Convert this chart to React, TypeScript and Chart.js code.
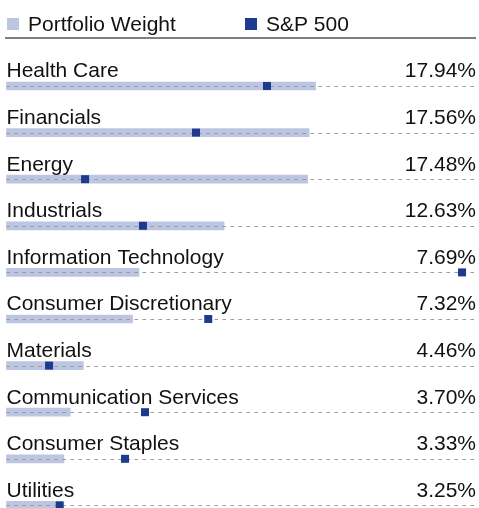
import React, { useEffect, useRef } from "react";
import { Chart, registerables } from "chart.js";

Chart.register(...registerables);

const categories: string[] = [
  "Health Care",
  "Financials",
  "Energy",
  "Industrials",
  "Information Technology",
  "Consumer Discretionary",
  "Materials",
  "Communication Services",
  "Consumer Staples",
  "Utilities",
];

const portfolioWeight: number[] = [17.94, 17.56, 17.48, 12.63, 7.69, 7.32, 4.46, 3.7, 3.33, 3.25];

const sp500Weight: number[] = [15.12, 11.0, 4.56, 7.92, 26.44, 11.71, 2.47, 8.04, 6.88, 3.09];

const seriesNames: string[] = ["Portfolio Weight", "S&P 500"];

const LIGHT = "#bcc5e2";
const DARK = "#1d3a8e";
const TEXT = "#111111";
const FONT = '21px "Liberation Sans", Arial, Helvetica, sans-serif';

const rowsPlugin = {
  id: "rowsPlugin",
  afterDatasetDraw(chart: any, args: any) {
    if (args.index !== 0) return;
    const ctx = chart.ctx;
    const area = chart.chartArea;
    const meta = chart.getDatasetMeta(0);
    ctx.save();
    ctx.strokeStyle = "#9a9a9a";
    ctx.lineWidth = 1;
    ctx.setLineDash([3.5, 4.5]);
    meta.data.forEach((bar: any) => {
      const y = Math.round(bar.y) + 0.5;
      ctx.beginPath();
      ctx.moveTo(area.left, y);
      ctx.lineTo(area.right, y);
      ctx.stroke();
    });
    ctx.restore();
  },
  afterDraw(chart: any) {
    const ctx = chart.ctx;
    const area = chart.chartArea;
    const meta = chart.getDatasetMeta(0);
    const labels = chart.data.labels as string[];
    const values = chart.data.datasets[0].data as number[];
    ctx.save();
    ctx.font = FONT;
    ctx.fillStyle = TEXT;
    ctx.textBaseline = "alphabetic";
    meta.data.forEach((bar: any, i: number) => {
      const baseY = bar.y - 8.7;
      ctx.textAlign = "left";
      ctx.fillText(labels[i], area.left, baseY);
      ctx.textAlign = "right";
      ctx.fillText(values[i].toFixed(2) + "%", area.right, baseY);
    });

    // legend
    const ds = chart.data.datasets;
    const legendX = [7, 245];
    ds.forEach((d: any, i: number) => {
      ctx.fillStyle = i === 0 ? LIGHT : DARK;
      ctx.fillRect(legendX[i], 18, 12, 12);
      ctx.fillStyle = TEXT;
      ctx.textAlign = "left";
      ctx.fillText(d.label, legendX[i] + 21, 30.5);
    });

    // separator
    ctx.fillStyle = "#808080";
    ctx.fillRect(5, 37, area.right - 5, 2);
    ctx.restore();
  },
};

export default function App() {
  const canvasRef = useRef<HTMLCanvasElement | null>(null);

  useEffect(() => {
    document.body.style.margin = "0";
    const canvas = canvasRef.current;
    if (!canvas) return;
    const chart = new Chart(canvas, {
      type: "bar",
      data: {
        labels: categories,
        datasets: [
          {
            type: "bar",
            label: seriesNames[0],
            data: portfolioWeight,
            backgroundColor: LIGHT,
            borderWidth: 0,
            barThickness: 8,
            order: 1,
            clip: false,
          } as any,
          {
            type: "line",
            label: seriesNames[1],
            data: sp500Weight,
            showLine: false,
            pointStyle: "rect",
            pointRadius: 5.66,
            pointBorderWidth: 0,
            pointBackgroundColor: DARK,
            backgroundColor: DARK,
            borderColor: DARK,
            indexAxis: "y",
            order: 0,
            clip: false,
          } as any,
        ],
      },
      options: {
        indexAxis: "y",
        responsive: false,
        animation: false,
        layout: { autoPadding: false, padding: { top: 86, bottom: 2.6, left: 6.5, right: 3 } },
        scales: {
          x: { display: false, min: 0, max: 27.25, grid: { display: false } },
          y: { display: false, offset: false, grid: { display: false } },
        },
        plugins: {
          legend: { display: false },
          tooltip: { enabled: false },
        },
      },
      plugins: [rowsPlugin],
    });
    return () => chart.destroy();
  }, []);

  return (
    <div style={{ width: 479, height: 508 }}>
      <canvas ref={canvasRef} width={479} height={508} style={{ display: "block" }} />
    </div>
  );
}
